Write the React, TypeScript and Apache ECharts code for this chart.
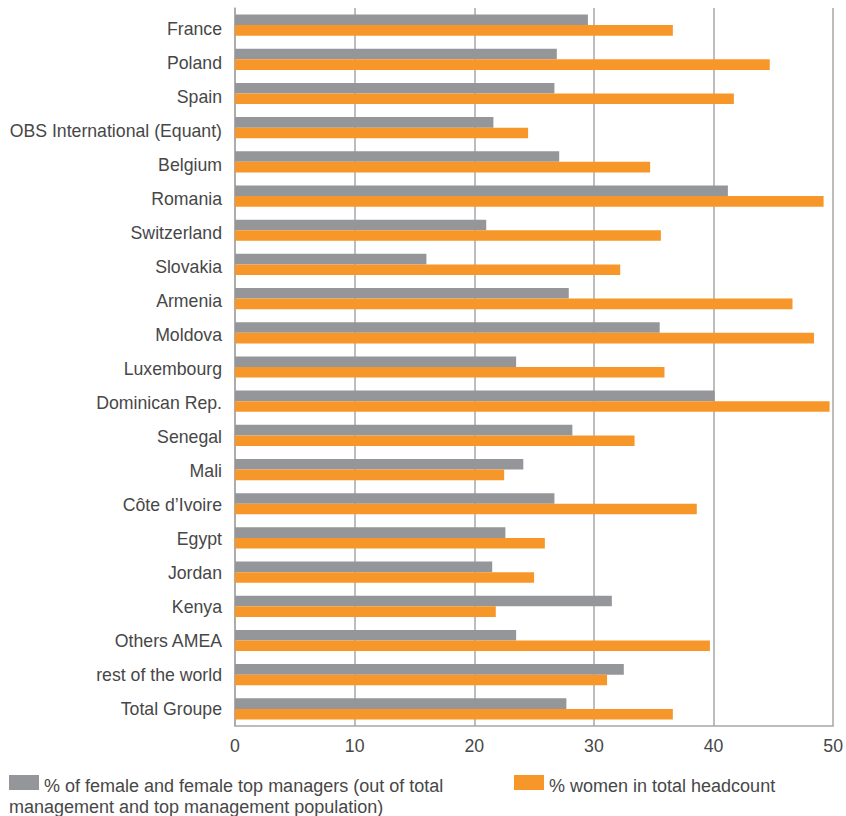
import React, { useEffect, useRef } from "react";
import * as echarts from "echarts";

const categories = [
  "France",
  "Poland",
  "Spain",
  "OBS International (Equant)",
  "Belgium",
  "Romania",
  "Switzerland",
  "Slovakia",
  "Armenia",
  "Moldova",
  "Luxembourg",
  "Dominican Rep.",
  "Senegal",
  "Mali",
  "Côte d’Ivoire",
  "Egypt",
  "Jordan",
  "Kenya",
  "Others AMEA",
  "rest of the world",
  "Total Groupe",
];

const managersPct = [
  29.5, 26.9, 26.7, 21.6, 27.1, 41.2, 21.0, 16.0, 27.9, 35.5, 23.5, 40.1, 28.2,
  24.1, 26.7, 22.6, 21.5, 31.5, 23.5, 32.5, 27.7,
];

const headcountPct = [
  36.6, 44.7, 41.7, 24.5, 34.7, 49.2, 35.6, 32.2, 46.6, 48.4, 35.9, 49.7, 33.4,
  22.5, 38.6, 25.9, 25.0, 21.8, 39.7, 31.1, 36.6,
];

const xTicks = { min: 0, max: 50, interval: 10 };

const legendManagersLine1 = "% of female and female top managers (out of total";
const legendManagersLine2 = "management and top management population)";
const legendHeadcount = "% women in total headcount";

const GRAY = "#959699";
const ORANGE = "#f7972a";
const TEXT = "#474747";
const AXIS = "#a7a7a7";
const FONT = "'Liberation Sans', Arial, sans-serif";

export default function App() {
  const ref = useRef<HTMLDivElement>(null);

  useEffect(() => {
    document.body.style.margin = "0";
    if (!ref.current) return;
    const chart = echarts.init(ref.current, undefined, { renderer: "svg" });
    chart.setOption({
      animation: false,
      backgroundColor: "#ffffff",
      textStyle: { fontFamily: FONT },
      grid: [
        { left: 235, right: 12, top: 8, bottom: 90, containLabel: false },
        { left: 235, right: 12, top: 12.3, bottom: 90.3, containLabel: false },
      ],
      xAxis: [
        {
          type: "value",
          gridIndex: 0,
          min: xTicks.min,
          max: xTicks.max,
          interval: xTicks.interval,
          axisLine: { show: true, lineStyle: { color: AXIS, width: 1.5 } },
          axisTick: { show: false },
          splitLine: { show: true, lineStyle: { color: AXIS, width: 1.5 } },
          axisLabel: {
            color: TEXT,
            fontSize: 17.7,
            fontFamily: FONT,
            margin: 11,
          },
        },
        {
          type: "value",
          gridIndex: 1,
          min: xTicks.min,
          max: xTicks.max,
          show: false,
        },
      ],
      yAxis: [
        {
          type: "category",
          gridIndex: 0,
          data: categories,
          inverse: true,
          axisLine: { show: true, lineStyle: { color: AXIS, width: 1.5 } },
          axisTick: { show: false },
          splitLine: { show: false },
          axisLabel: { show: false },
        },
        {
          type: "category",
          gridIndex: 1,
          data: categories,
          inverse: true,
          axisLine: { show: false },
          axisTick: { show: false },
          splitLine: { show: false },
          axisLabel: {
            color: TEXT,
            fontSize: 17.7,
            fontFamily: FONT,
            margin: 13,
          },
        },
      ],
      series: [
        {
          name: legendManagersLine1,
          type: "bar",
          xAxisIndex: 0,
          yAxisIndex: 0,
          data: managersPct,
          barWidth: 10.6,
          barGap: "0%",
          itemStyle: { color: GRAY },
        },
        {
          name: legendHeadcount,
          type: "bar",
          xAxisIndex: 0,
          yAxisIndex: 0,
          data: headcountPct,
          barWidth: 10.6,
          barGap: "0%",
          itemStyle: { color: ORANGE },
        },
      ],
      graphic: [
        {
          type: "rect",
          shape: { x: 9, y: 775, width: 30, height: 15 },
          style: { fill: GRAY },
        },
        {
          type: "text",
          x: 44,
          y: 786,
          style: {
            text: legendManagersLine1,
            fill: TEXT,
            font: `18px ${FONT}`,
            textVerticalAlign: "middle",
          },
        },
        {
          type: "text",
          x: 9,
          y: 807,
          style: {
            text: legendManagersLine2,
            fill: TEXT,
            font: `18px ${FONT}`,
            textVerticalAlign: "middle",
          },
        },
        {
          type: "rect",
          shape: { x: 514, y: 775, width: 30, height: 15 },
          style: { fill: ORANGE },
        },
        {
          type: "text",
          x: 549,
          y: 786,
          style: {
            text: legendHeadcount,
            fill: TEXT,
            font: `18px ${FONT}`,
            textVerticalAlign: "middle",
          },
        },
      ],
    });
    return () => chart.dispose();
  }, []);

  return <div ref={ref} style={{ width: 846, height: 816 }} />;
}
